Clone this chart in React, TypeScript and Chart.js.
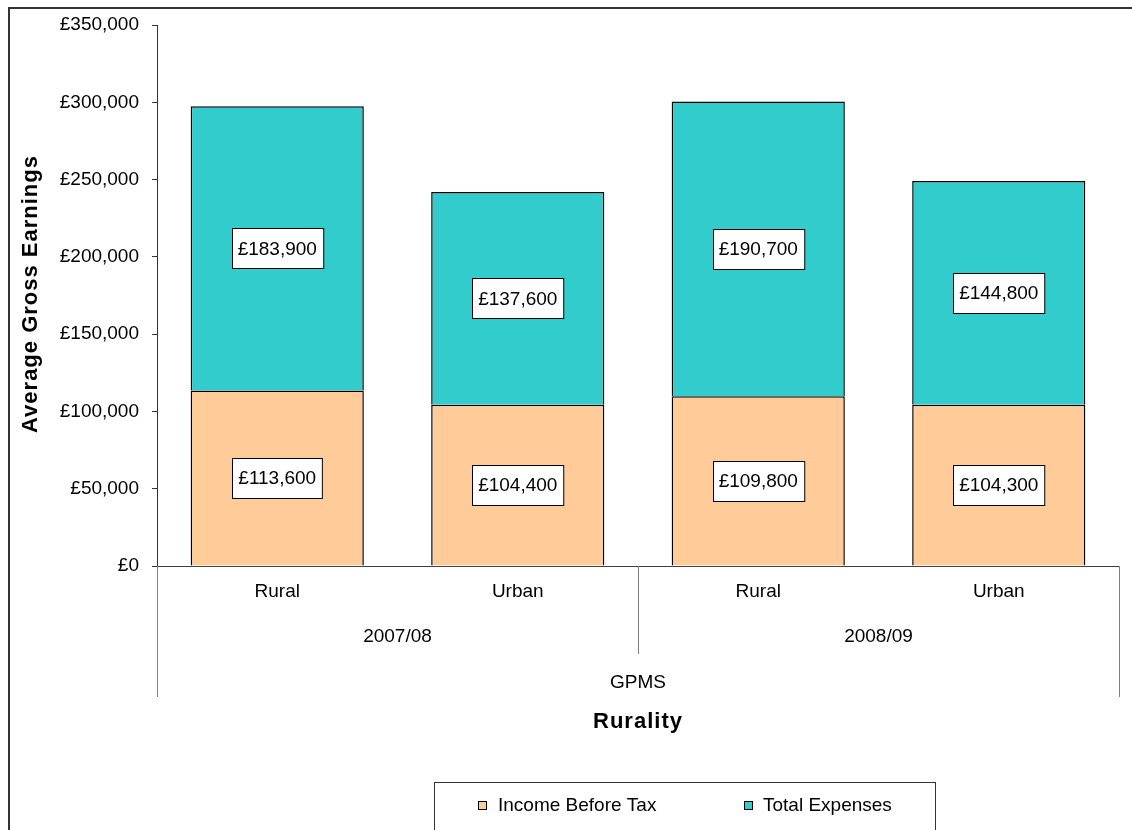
import React, { useEffect, useRef } from "react";
import { Chart, registerables } from "chart.js";

Chart.register(...registerables);

const categories = ["Rural", "Urban", "Rural", "Urban"];
const groups = ["2007/08", "2008/09"];
const topGroup = "GPMS";
const incomeBeforeTax = [113600, 104400, 109800, 104300];
const totalExpenses = [183900, 137600, 190700, 144800];
const seriesNames = ["Income Before Tax", "Total Expenses"];
const seriesColors = ["#FFCC99", "#33CCCC"];
const yTitle = "Average Gross Earnings";
const xTitle = "Rurality";

const FONT = '"Liberation Sans", Arial, sans-serif';
const fmt = (v: number) => "£" + Math.round(v).toLocaleString("en-GB");

const decorPlugin = {
  id: "decor",
  afterDraw(chart: any) {
    const ctx = chart.ctx as CanvasRenderingContext2D;
    const area = chart.chartArea;
    const xs = chart.scales.x;
    ctx.save();
    // outer border
    ctx.strokeStyle = "#333";
    ctx.lineWidth = 2;
    ctx.strokeRect(9, 8, 1300, 1000);

    // bottom axis line
    ctx.lineWidth = 1;
    ctx.strokeStyle = "#404040";
    ctx.beginPath();
    ctx.moveTo(area.left, Math.round(area.bottom) + 0.5);
    ctx.lineTo(area.right, Math.round(area.bottom) + 0.5);
    ctx.stroke();

    // multi-level separators
    ctx.strokeStyle = "#808080";
    const sep = (x: number, y2: number) => {
      ctx.beginPath();
      ctx.moveTo(Math.round(x) + 0.5, area.bottom);
      ctx.lineTo(Math.round(x) + 0.5, y2);
      ctx.stroke();
    };
    sep(area.left, 697);
    sep((area.left + area.right) / 2, 654);
    sep(area.right, 697);

    // category labels
    ctx.fillStyle = "#000";
    ctx.font = `19px ${FONT}`;
    ctx.textAlign = "center";
    ctx.textBaseline = "middle";
    categories.forEach((c, i) => {
      ctx.fillText(c, xs.getPixelForValue(i), 592);
    });
    groups.forEach((g, gi) => {
      const x = (xs.getPixelForValue(gi * 2) + xs.getPixelForValue(gi * 2 + 1)) / 2;
      ctx.fillText(g, x, 637);
    });
    ctx.fillText(topGroup, (area.left + area.right) / 2, 683);

    // x title
    (ctx as any).letterSpacing = "1px";
    ctx.font = `bold 22px ${FONT}`;
    ctx.fillText(xTitle, (area.left + area.right) / 2, 722);

    // y title
    ctx.save();
    ctx.translate(31, 294);
    ctx.rotate(-Math.PI / 2);
    ctx.font = `bold 22px ${FONT}`;
    (ctx as any).letterSpacing = "1px";
    ctx.fillText(yTitle, 0, 0);
    ctx.restore();
    (ctx as any).letterSpacing = "0px";

    // legend
    ctx.strokeStyle = "#333";
    ctx.lineWidth = 1;
    ctx.strokeRect(434.5, 782.5, 501, 100);
    const items = [
      { sx: 478, tx: 498 },
      { sx: 744, tx: 763 },
    ];
    ctx.textAlign = "left";
    ctx.font = `19px ${FONT}`;
    items.forEach((it, i) => {
      ctx.fillStyle = seriesColors[i];
      ctx.fillRect(it.sx, 801, 9, 9);
      ctx.strokeStyle = "#000";
      ctx.strokeRect(it.sx + 0.5, 801.5, 8, 8);
      ctx.fillStyle = "#000";
      ctx.fillText(seriesNames[i], it.tx, 806);
    });

    ctx.restore();
  },
  afterDatasetsDraw(chart: any) {
    const ctx = chart.ctx as CanvasRenderingContext2D;
    ctx.save();
    ctx.font = `19px ${FONT}`;
    ctx.textAlign = "center";
    ctx.textBaseline = "middle";
    chart.data.datasets.forEach((ds: any, di: number) => {
      const meta = chart.getDatasetMeta(di);
      meta.data.forEach((el: any, i: number) => {
        const v = ds.data[i];
        const text = fmt(v);
        const cy = (el.y + el.base) / 2;
        const w = ctx.measureText(text).width + 12;
        const h = 40;
        const x0 = Math.round(el.x - w / 2) + 0.5;
        const y0 = Math.round(cy - h / 2) + 0.5;
        ctx.fillStyle = "#fff";
        ctx.fillRect(x0, y0, w, h);
        ctx.strokeStyle = "#000";
        ctx.lineWidth = 1;
        ctx.strokeRect(x0, y0, w, h);
        ctx.fillStyle = "#000";
        ctx.fillText(text, el.x, cy + 1);
      });
    });
    ctx.restore();
  },
};

export default function App() {
  const ref = useRef<HTMLCanvasElement | null>(null);
  useEffect(() => {
    if (!ref.current) return;
    const chart = new Chart(ref.current, {
      type: "bar",
      data: {
        labels: categories,
        datasets: [
          {
            label: seriesNames[0],
            data: incomeBeforeTax,
            backgroundColor: seriesColors[0],
            borderColor: "#000",
            borderWidth: 1.5,
          },
          {
            label: seriesNames[1],
            data: totalExpenses,
            backgroundColor: seriesColors[1],
            borderColor: "#000",
            borderWidth: 1.5,
          },
        ],
      },
      options: {
        animation: false,
        responsive: false,
        maintainAspectRatio: false,
        layout: { padding: { top: 25, right: 13, left: 0, bottom: 0 } },
        datasets: { bar: { categoryPercentage: 1, barPercentage: 0.72 } },
        plugins: {
          legend: { display: false },
          tooltip: { enabled: false },
        },
        scales: {
          x: {
            stacked: true,
            ticks: { display: false },
            grid: { display: false },
            border: { display: false },
            afterFit: (s: any) => {
              s.height = 264;
            },
          },
          y: {
            stacked: true,
            min: 0,
            max: 350000,
            ticks: {
              stepSize: 50000,
              padding: 13,
              color: "#000",
              font: { family: FONT, size: 19 },
              callback: (v: any) => fmt(Number(v)),
            },
            grid: {
              display: true,
              drawOnChartArea: false,
              drawTicks: true,
              tickLength: 5,
              color: "#333",
            },
            border: { display: true, color: "#333", width: 1 },
            afterFit: (s: any) => {
              s.width = 157;
            },
          },
        },
      },
      plugins: [decorPlugin],
    });
    return () => chart.destroy();
  }, []);
  return (
    <div style={{ position: "absolute", left: 0, top: 0, width: 1132, height: 830, background: "#fff" }}>
      <canvas ref={ref} width={1132} height={830} style={{ display: "block", width: 1132, height: 830 }} />
    </div>
  );
}
